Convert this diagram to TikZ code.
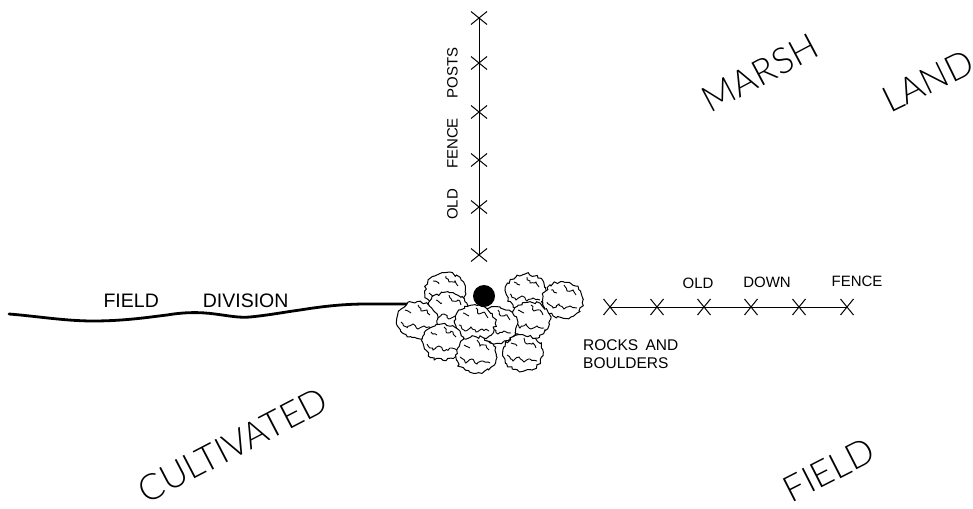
\documentclass[tikz,border=0pt]{standalone}
\usepackage{fontspec}
\setmainfont{Liberation Sans}
\newfontfamily\thinfont{Lato Light}
\usetikzlibrary{shapes.misc,decorations.pathmorphing}
\tikzset{
  post/.style={cross out,draw=black,line width=1pt,minimum width=15pt,minimum height=12pt,inner sep=0pt},
  wire/.style={line width=1pt,black},
  small/.style={font=\fontsize{15}{18}\selectfont,inner sep=0pt,align=left},
  divlabel/.style={font=\fontsize{19.5}{22}\selectfont,inner sep=0pt},
  big/.style={font=\thinfont\fontsize{36}{40}\selectfont,inner sep=0pt},
  rockedge/.style={draw=black,fill=white,line width=1pt,decorate,decoration={random steps,segment length=2.6pt,amplitude=1.5pt}},
  rockline/.style={draw=black,line width=0.9pt,decorate,decoration={random steps,segment length=2.4pt,amplitude=1.1pt}},
  rock/.pic={
    \path[rockedge] (0,0) ellipse (20 and 18);
    \path[rockline] (-16,2) -- (-10,8) -- (-4,4) -- (1,9) -- (7,6) -- (14,8);
    \path[rockline] (1,-15) -- (4,-9) -- (10,-10) -- (13,-5);
    \path[rockline] (-12,-10) -- (-6,-7);
  }
}
\begin{document}
\begin{tikzpicture}[x=1pt,y=-1pt]
\useasboundingbox (0,0) rectangle (973,508);
\pgfmathsetseed{4242}
% upright fence
\foreach \n/\y in {1/18,2/63,3/112,4/160,5/207,6/255}
  \node[post] (v\n) at (479,\y) {};
\draw[wire] (v1.center) -- (v6.center);
% fallen fence
\foreach \n/\x in {1/610,2/657,3/704,4/751,5/799,6/847}
  \node[post,rotate=90] (h\n) at (\x,307) {};
\draw[wire] (h1.center) -- (h6.center);
% field division
\coordinate (divA) at (9,314);
\coordinate (divB) at (410,304);
\draw[line width=2.8pt,line cap=round] (divA) .. controls (35,316) and (65,321) .. (93,321)
  .. controls (125,321) and (150,317) .. (167,315)
  .. controls (185,312) and (200,312) .. (215,314)
  .. controls (230,316) and (240,318) .. (250,317)
  .. controls (270,315) and (285,312) .. (300,310)
  .. controls (325,306) and (345,304) .. (367,304)
  .. controls (385,304) and (395,304) .. (divB);
% rocks and boulders
\pic at (445,291) {rock};
\pic at (526,292) {rock};
\pic at (563,300) {rock};
\pic at (448,310) {rock};
\pic at (530,320) {rock};
\pic at (497,325) {rock};
\pic at (417,320) {rock};
\pic at (475,323) {rock};
\pic at (443,342) {rock};
\pic at (523,353) {rock};
\pic at (476,355) {rock};
\node[circle,fill=black,minimum size=22pt,inner sep=0pt] (stone) at (484,296) {};
% labels
\node[small,rotate=90] (lblposts) at (452.5,133.5) {OLD\hspace{20pt}FENCE\hspace{20pt}POSTS};
\node[divlabel] (lbldiv) at (196,301) {FIELD\hspace{44pt}DIVISION};
\node[small] (lblold) at (698,283) {OLD};
\node[small] (lbldown) at (767,282) {DOWN};
\node[small] (lblfence) at (857,281) {FENCE};
\node[small,anchor=west,font=\fontsize{15.5}{18}\selectfont] (lblrocks) at (583,354) {ROCKS\hspace{3pt} AND\\BOULDERS};
\node[big,rotate=28] (marsh) at (760,73) {MARSH};
\node[big,rotate=26] (land) at (928,81) {LAND};
\node[big,rotate=27.5] (cult) at (233,445) {CULTIVATED};
\node[big,rotate=27] (field) at (829,470) {FIELD};
\end{tikzpicture}
\end{document}
